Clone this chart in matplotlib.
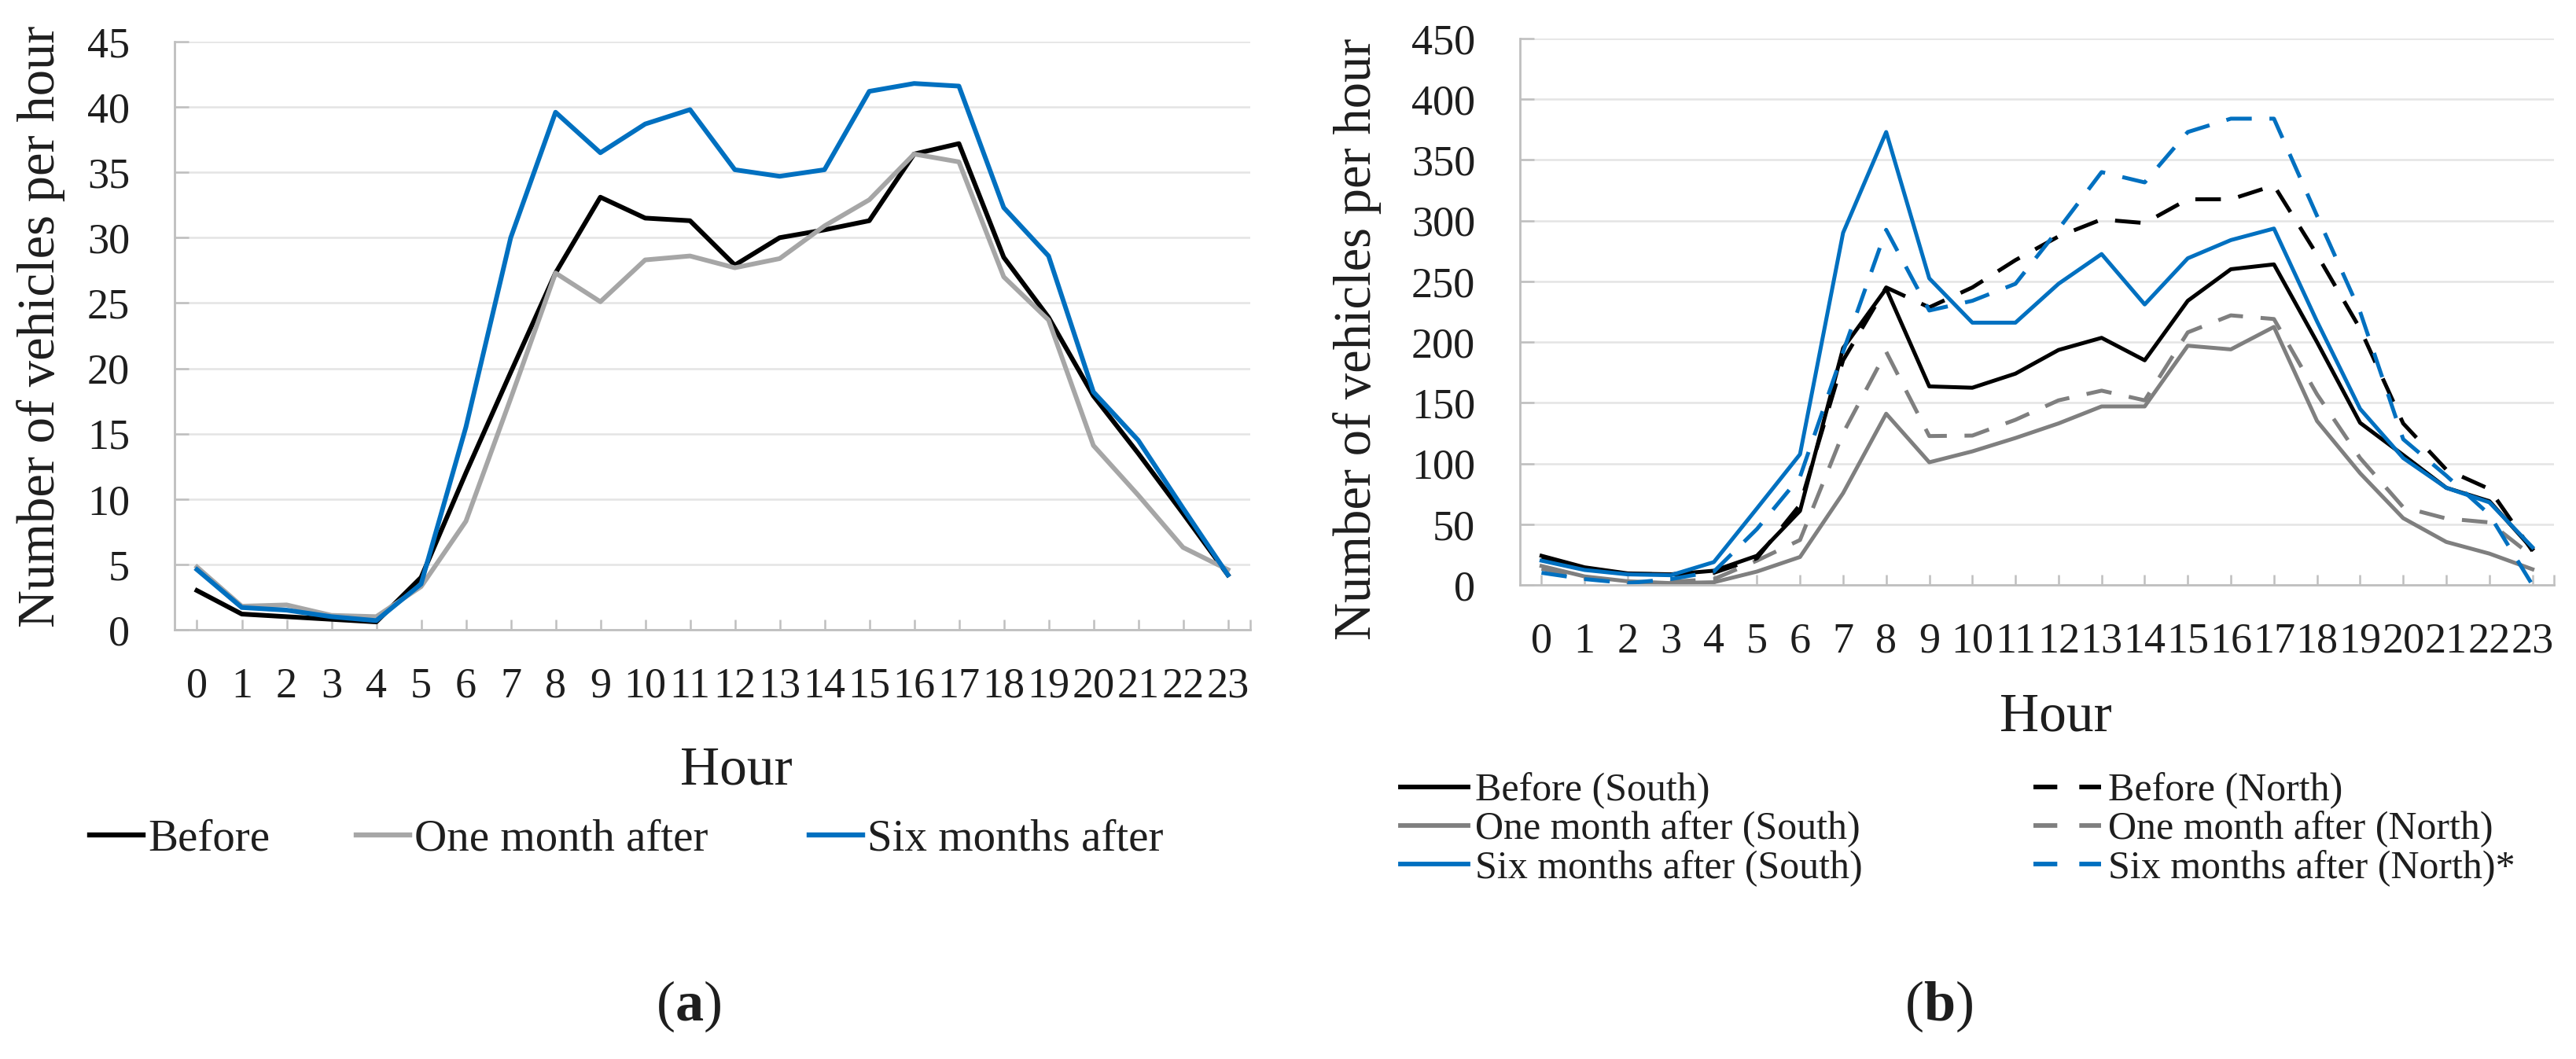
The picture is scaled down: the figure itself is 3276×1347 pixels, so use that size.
import numpy as np
import matplotlib
matplotlib.use("Agg")
import matplotlib.pyplot as plt
from matplotlib.lines import Line2D

# ---------------- data ----------------
hours = list(range(24))
hour_labels = [str(h) for h in hours]

# (a)
before = [3.0, 1.2, 1.0, 0.8, 0.6, 4.0, 12.0, 19.7, 27.3, 33.1, 31.5, 31.3,
          27.9, 30.0, 30.6, 31.3, 36.4, 37.2, 28.5, 23.9, 17.9, 13.5, 8.9, 4.2]
one_month_after = [4.8, 1.8, 1.9, 1.1, 1.0, 3.3, 8.3, 17.7, 27.3, 25.1, 28.3, 28.6,
                   27.7, 28.4, 30.9, 32.9, 36.4, 35.8, 27.0, 23.7, 14.1, 10.3, 6.3, 4.6]
six_months_after = [4.6, 1.7, 1.5, 1.0, 0.7, 3.5, 15.5, 30.0, 39.6, 36.5, 38.7, 39.8,
                    35.2, 34.7, 35.2, 41.2, 41.8, 41.6, 32.3, 28.6, 18.2, 14.5, 9.3, 4.2]

# (b)
before_south = [24, 14.5, 9.5, 8.7, 11.7, 24, 61, 195, 244, 163.5, 162.4, 174,
                193.5, 203.5, 185, 234, 260, 264, 200, 133.5, 107, 80, 69, 29.5]
before_north = [22, 13.4, 9, 8.7, 10, 22, 66, 185, 245, 228.6, 245, 267.5,
                287, 301, 298, 317.6, 317.6, 329, 272, 211, 133, 95, 79, 28]
one_month_south = [15.6, 7, 3, 1.5, 2.2, 11, 23, 75.6, 141, 101, 110, 121,
                   133, 147, 147, 197, 194, 212.5, 135, 92, 55, 35.4, 25.8, 12.9]
one_month_north = [13.4, 5.8, 2.2, 2.6, 4.8, 20, 37, 125, 192, 122.6, 123, 136,
                   152, 160, 152, 208, 222, 219, 157, 104.5, 64, 54.7, 51.5, 23.6]
six_months_south = [20, 12.3, 8.7, 8, 18.8, 63, 107.6, 290, 373, 252.5, 216, 216,
                    248, 272.5, 231, 269, 284, 293.5, 217, 145, 104.5, 80, 68, 31]
six_months_north = [10, 4.8, 1.5, 4.8, 11, 46, 89, 192, 292.5, 226, 234, 248,
                    293, 340, 331.5, 373, 384, 384, 304, 225, 120, 90, 58, 0]

# ---------------- style ----------------
W, H = 3276, 1347
BLUE = "#0070C0"
GRAY_A = "#A6A6A6"
GRAY_B = "#7F7F7F"
BLACK = "#000000"
TEXT = "#1E1E1E"
AXIS = "#BFBFBF"
GRID = "#E4E4E4"

plt.rcParams["font.family"] = ["Liberation Serif", "DejaVu Serif"]
plt.rcParams["mathtext.fontset"] = "custom"
plt.rcParams["mathtext.rm"] = "Liberation Serif"
plt.rcParams["mathtext.bf"] = "Liberation Serif:bold"

fig = plt.figure(figsize=(W / 100, H / 100), dpi=100)
fig.patch.set_facecolor("white")


def px_rect(x0, y_top, x1, y_bottom):
    return [x0 / W, 1 - y_bottom / H, (x1 - x0) / W, (y_bottom - y_top) / H]


def style(ax, ymax, ystep):
    ax.set_xlim(-0.5, 23.5)
    ax.set_ylim(0, ymax)
    ax.set_xticks(hours)
    ax.set_xticklabels(hour_labels)
    ax.set_xticks([23.5], minor=True)
    ax.set_yticks(np.arange(0, ymax + 0.1, ystep))
    for s in ["top", "right"]:
        ax.spines[s].set_visible(False)
    for s in ["left", "bottom"]:
        ax.spines[s].set_color(AXIS)
        ax.spines[s].set_linewidth(2.0)
    ax.yaxis.grid(True, color=GRID, lw=1.8)
    ax.set_axisbelow(True)
    ax.tick_params(axis="x", which="both", direction="in", length=9.5, width=1.8,
                   color=AXIS, pad=34, labelsize=39, labelcolor=TEXT)
    ax.tick_params(axis="y", direction="in", length=13, width=1.8,
                   color=AXIS, pad=41, labelsize=39, labelcolor=TEXT)


# ---------------- (a) ----------------
axa = fig.add_axes(px_rect(222, 53, 1590, 801))
style(axa, 45, 5)
axa.plot(hours, before, color=BLACK, lw=4.3, clip_on=False)
axa.plot(hours, one_month_after, color=GRAY_A, lw=4.3, clip_on=False)
axa.plot(hours, six_months_after, color=BLUE, lw=4.3, clip_on=False, zorder=3)

# ---------------- (b) ----------------
axb = fig.add_axes(px_rect(1933, 49, 3248, 744))
style(axb, 450, 50)
DASH = (6.5, 4.5)
LEG_DASH = (5.2, 4.8)
LWB = 3.6
axb.plot(hours, one_month_north, color=GRAY_B, lw=LWB, ls=(0, DASH), clip_on=False)
axb.plot(hours, one_month_south, color=GRAY_B, lw=LWB, clip_on=False)
axb.plot(hours, before_north, color=BLACK, lw=LWB, ls=(0, DASH), clip_on=False)
axb.plot(hours, before_south, color=BLACK, lw=LWB, clip_on=False)
axb.plot(hours, six_months_north, color=BLUE, lw=LWB, ls=(0, DASH), clip_on=False)
axb.plot(hours, six_months_south, color=BLUE, lw=LWB, clip_on=False)

# ---------------- texts ----------------
fig.text(52 / W, 1 - 415 / H, "Number of vehicles per hour", rotation=90,
         ha="center", va="center", fontsize=48, color=TEXT)
fig.text(1726 / W, 1 - 431 / H, "Number of vehicles per hour", rotation=90,
         ha="center", va="center", fontsize=48, color=TEXT)
fig.text(936 / W, 1 - 998 / H, "Hour", ha="center", va="baseline", fontsize=50, color=TEXT)
fig.text(2614 / W, 1 - 929 / H, "Hour", ha="center", va="baseline", fontsize=50, color=TEXT)
fig.text(876 / W, 1 - 1280 / H, r"($\mathbf{a}$)", ha="center", va="center", fontsize=52, color=TEXT)
fig.text(2466 / W, 1 - 1280 / H, r"($\mathbf{b}$)", ha="center", va="center", fontsize=52, color=TEXT)


# ---------------- legends ----------------
def add_legend(handles, labels, x, y, fs, hl, htp, ls=0.0):
    leg = fig.legend(handles, labels, loc="center left",
                     bbox_to_anchor=(x / W, 1 - y / H), frameon=False,
                     fontsize=fs, handlelength=hl, handletextpad=htp,
                     borderpad=0, borderaxespad=0, labelspacing=ls)
    for t in leg.get_texts():
        t.set_color(TEXT)
    return leg


def h(color, lw, dashed=False):
    return Line2D([0], [0], color=color, lw=lw, ls=(0, LEG_DASH) if dashed else "-")


add_legend([h(BLACK, 4.6)], ["Before"], 114, 1068, 41, 1.2, 0.1)
add_legend([h(GRAY_A, 4.6)], ["One month after"], 453, 1068, 41, 1.2, 0.1)
add_legend([h(BLUE, 4.6)], ["Six months after"], 1029, 1068, 41, 1.2, 0.1)

add_legend([h(BLACK, 4.2), h(GRAY_B, 4.2), h(BLUE, 4.2)],
           ["Before (South)", "One month after (South)", "Six months after (South)"],
           1781, 1055, 36, 1.72, 0.18, 0.05)
add_legend([h(BLACK, 4.2, True), h(GRAY_B, 4.2, True), h(BLUE, 4.2, True)],
           ["Before (North)", "One month after (North)", "Six months after (North)*"],
           2586, 1055, 36, 1.72, 0.18, 0.05)

fig.savefig("out.png", dpi=100, facecolor="white")
